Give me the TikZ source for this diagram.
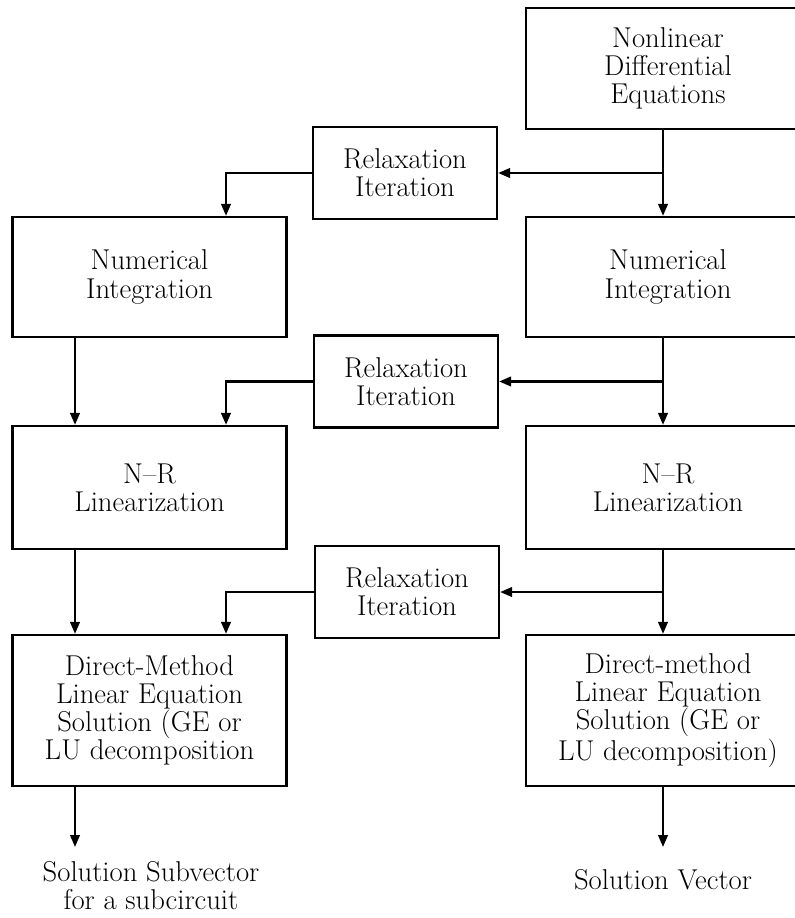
\documentclass[tikz,border=0pt]{standalone}
\usetikzlibrary{arrows.meta}
\begin{document}
\begin{tikzpicture}[x=0.025cm, y=-0.025cm,
    box/.style={draw, line width=1.6pt, align=center, inner sep=0pt,
      font=\fontsize{20.4}{20}\selectfont},
    colbox/.style={box, minimum width=6.85cm},
    edgebox/.style={box, minimum width=7.1cm},
    relaxbox/.style={box, minimum width=4.6cm, minimum height=2.3cm},
    outtext/.style={align=center, font=\fontsize{20.4}{20}\selectfont},
    flow/.style={-{Triangle[length=3mm,width=2.4mm]}, line width=1.6pt}]
		\useasboundingbox (0,0) rectangle (794,918);
		
		% Source equations
		\node[edgebox, minimum height=3.025cm] (nlde) at (668,68.5) {Nonlinear\\Differential\\Equations};
		
		% Relaxation iterations
		\node[relaxbox] (relaxa) at (405,173) {Relaxation\\Iteration};
		\node[relaxbox] (relaxb) at (406,381.5) {Relaxation\\Iteration};
		\node[relaxbox] (relaxc) at (407,592) {Relaxation\\Iteration};
		
		% Left column (subcircuit)
		\node[colbox, minimum height=3cm] (intl) at (149.5,277) {Numerical\\Integration};
		\node[colbox, minimum height=3.075cm] (nrl) at (149.5,487.5) {N--R\\Linearization};
		\node[colbox, minimum height=3.775cm] (dml) at (149.5,710.5) {Direct-Method\\Linear Equation\\Solution (GE or\\LU decomposition};
		
		% Right column (whole circuit)
		\node[edgebox, minimum height=3cm] (intr) at (668,277) {Numerical\\Integration};
		\node[edgebox, minimum height=3.075cm] (nrr) at (668,487.5) {N--R\\Linearization};
		\node[edgebox, minimum height=3.775cm] (dmr) at (668,710.5) {Direct-method\\Linear Equation\\Solution (GE or\\LU decomposition)};
		
		% Outputs
		\node[outtext] (subvec) at (151,886) {Solution Subvector\\for a subcircuit};
		\node[outtext] (vec) at (663,880) {Solution Vector};
		
		% Helper coordinates
		\coordinate (lft) at (75,0);
		\coordinate (rlx) at (226,0);
		\coordinate (rgt) at (663,0);
		\coordinate (subend) at (75,847);
		\coordinate (vecend) at (663,847);
		
		% Right spine
		\draw[flow] (rgt |- nlde.south) -- (rgt |- intr.north);
		\draw[flow] (rgt |- intr.south) -- (rgt |- nrr.north);
		\draw[flow] (rgt |- nrr.south) -- (rgt |- dmr.north);
		\draw[flow] (rgt |- dmr.south) -- (vecend);
		
		% Branches into relaxation
		\draw[flow] (rgt |- relaxa.east) -- (relaxa.east);
		\draw[flow] (rgt |- relaxb.east) -- (relaxb.east);
		\draw[flow] (rgt |- relaxc.east) -- (relaxc.east);
		
		% Relaxation back into left column
		\draw[flow] (relaxa.west) -| (rlx |- intl.north);
		\draw[flow] (relaxb.west) -| (rlx |- nrl.north);
		\draw[flow] (relaxc.west) -| (rlx |- dml.north);
		
		% Left spine
		\draw[flow] (lft |- intl.south) -- (lft |- nrl.north);
		\draw[flow] (lft |- nrl.south) -- (lft |- dml.north);
		\draw[flow] (lft |- dml.south) -- (subend);
		
	\end{tikzpicture}
\end{document}
